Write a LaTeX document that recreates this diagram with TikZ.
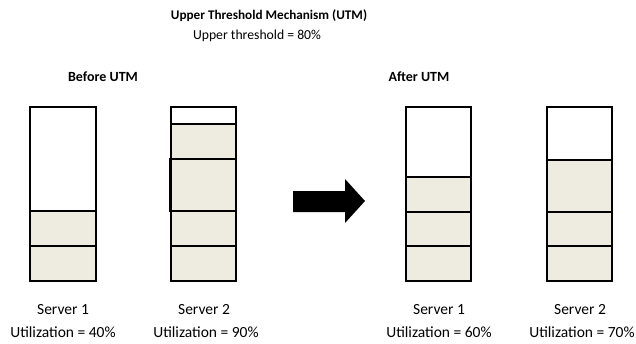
\documentclass[tikz,border=0pt]{standalone}
\usepackage{fontspec}
\setmainfont{Carlito}
\definecolor{blockfill}{HTML}{EEECE1}
\begin{document}
\begin{tikzpicture}[x=1pt,y=-1pt,
  blk/.style={draw=black,line width=1.8pt,fill=blockfill},
  frame/.style={draw=black,line width=1.8pt},
  lbl/.style={font=\fontsize{15.5}{18}\selectfont,align=center,inner sep=0pt},
  sublbl/.style={font=\fontsize{13.7}{16}\selectfont,inner sep=0pt},
  head/.style={font=\bfseries\fontsize{14}{17}\selectfont,inner sep=0pt},
  tit/.style={font=\bfseries\fontsize{13.2}{16}\selectfont,inner sep=0pt}]
\useasboundingbox (0,0) rectangle (636,343);
% titles
\node[tit] (title) at (269,16) {Upper Threshold Mechanism (UTM)};
\node[sublbl] (sub) at (257,36) {Upper threshold = 80\%};
\node[head] (before) at (103,77) {Before UTM};
\node[head] (after) at (419,77) {After UTM};
% Before: server 1
\fill[blockfill] (30,211) rectangle (96,281);
\draw[blk] (30,246) rectangle (96,281);
\draw[blk] (30,211) rectangle (96,246);
\draw[frame] (30,107) rectangle (96,281);
% Before: server 2
\draw[blk] (171,246) rectangle (236,281);
\draw[blk] (171,211) rectangle (236,246);
\draw[blk] (170,159) rectangle (236,211);
\draw[blk] (171,124) rectangle (236,159);
\draw[frame] (171,107) rectangle (236,281);
% arrow
\fill[black] (293,191) -- (345,191) -- (345,179) -- (365,201) -- (345,223) -- (345,212) -- (293,212) -- cycle;
% After: server 1
\draw[blk] (406,246) rectangle (471,281);
\draw[blk] (406,212) rectangle (471,246);
\draw[blk] (406,177) rectangle (471,212);
\draw[frame] (406,107) rectangle (471,281);
% After: server 2
\draw[blk] (547,246) rectangle (612,281);
\draw[blk] (547,212) rectangle (612,246);
\draw[blk] (547,160) rectangle (612,212);
\draw[frame] (547,107) rectangle (612,281);
% labels
\node[lbl] (s1a) at (63,310) {Server 1};
\node[lbl] (u1a) at (63,332) {Utilization = 40\%};
\node[lbl] (s2a) at (204,310) {Server 2};
\node[lbl] (u2a) at (206,332) {Utilization = 90\%};
\node[lbl] (s1b) at (439,310) {Server 1};
\node[lbl] (u1b) at (439,332) {Utilization = 60\%};
\node[lbl] (s2b) at (580,310) {Server 2};
\node[lbl] (u2b) at (582,332) {Utilization = 70\%};
\end{tikzpicture}
\end{document}
